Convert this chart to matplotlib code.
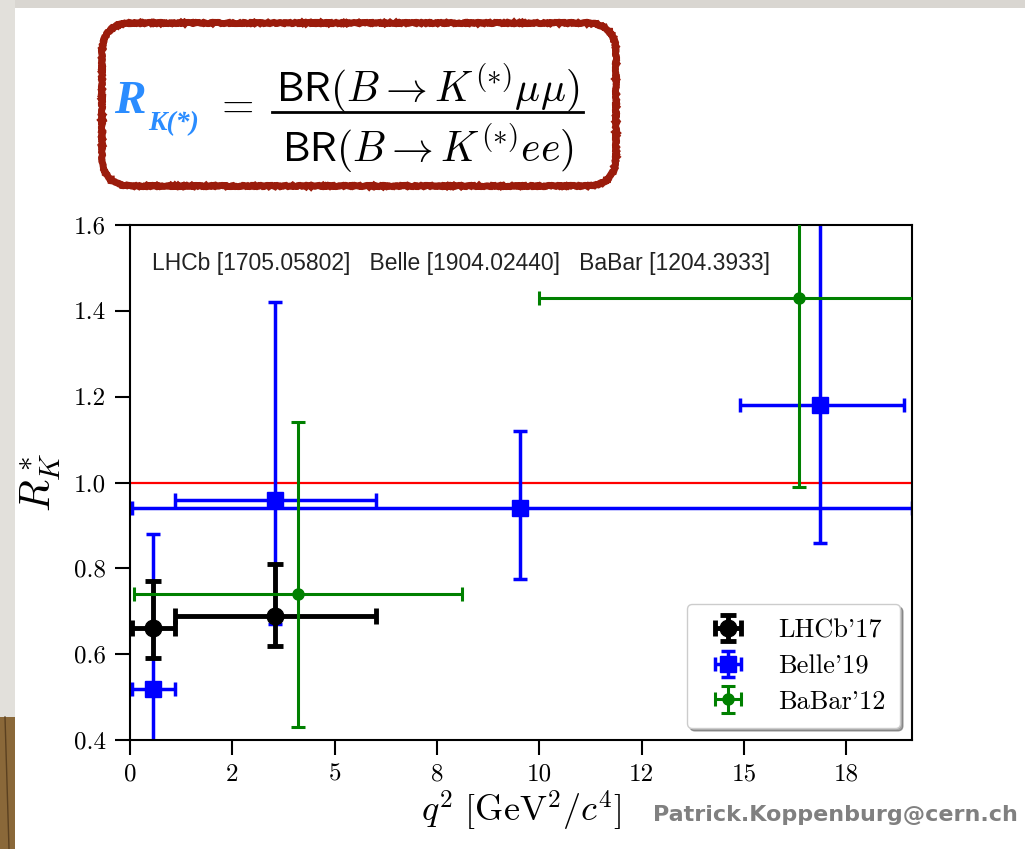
import numpy as np
import matplotlib.pyplot as plt
from matplotlib.patches import Rectangle, FancyBboxPatch
from matplotlib.ticker import MultipleLocator, FormatStrFormatter

plt.rcParams['mathtext.fontset'] = 'cm'
plt.rcParams['font.family'] = ['cmr10', 'DejaVu Serif']
plt.rcParams['axes.formatter.use_mathtext'] = True

# LHCb'17  (q2 bins 0.045-1.1 and 1.1-6.0)
lhcb_x = [0.57, 3.55]
lhcb_xlo = [0.045, 1.1]
lhcb_xhi = [1.1, 6.0]
lhcb_y = [0.66, 0.69]
lhcb_ylo = [0.07, 0.07]
lhcb_yhi = [0.11, 0.12]

# Belle'19
belle_x = [0.57, 3.55, 9.52, 16.85]
belle_xlo = [0.045, 1.1, 0.045, 14.9]
belle_xhi = [1.1, 6.0, 19.1, 18.9]
belle_y = [0.52, 0.96, 0.94, 1.18]
belle_ylo = [0.26, 0.29, 0.165, 0.32]
belle_yhi = [0.36, 0.46, 0.18, 0.52]

# BaBar'12
babar_x = [4.11, 16.35]
babar_xlo = [0.1, 10.0]
babar_xhi = [8.12, 22.6]
babar_y = [0.74, 1.43]
babar_ylo = [0.31, 0.44]
babar_yhi = [0.40, 0.65]

refs = 'LHCb [1705.05802]   Belle [1904.02440]   BaBar [1204.3933]'


def xerrs(x, lo, hi):
    x = np.array(x)
    return [x - np.array(lo), np.array(hi) - x]


fig = plt.figure(figsize=(10.25, 8.49), dpi=100)
W, H = 1025, 849

# slide background
bg = fig.add_axes([0, 0, 1, 1])
bg.set_xlim(0, W)
bg.set_ylim(H, 0)
bg.axis('off')
bg.add_patch(Rectangle((0, 0), W, 8, color='#d9d6d1', lw=0))
bg.add_patch(Rectangle((0, 0), 15, 717, color='#e2e0db', lw=0))
bg.add_patch(Rectangle((0, 717), 15, H - 717, color='#8a6839', lw=0))
bg.plot([5, 9], [717, 849], color='#5a4020', lw=1)

# formula box
box = FancyBboxPatch((102, 23), 514, 163, boxstyle='round,pad=0,rounding_size=30',
                     fc='white', ec='#9b1c0c', lw=5)
box.set_sketch_params(scale=0.6, length=4, randomness=6)
bg.add_patch(box)
bg.text(114, 113, 'R', fontsize=34, color='#2a8cff', fontweight='bold',
        fontstyle='italic', family='Liberation Serif', va='baseline')
bg.text(148, 130, 'K(*)', fontsize=20, color='#2a8cff', fontweight='bold',
        fontstyle='italic', family='Liberation Serif', va='baseline')
bg.text(234, 106, '$=$', fontsize=30, ha='center', va='center')
bg.text(428, 88, r'$\mathsf{BR}(B \rightarrow K^{(*)}\mu\mu)$', fontsize=30,
        ha='center', va='center')
bg.plot([272, 583], [112, 112], color='black', lw=2)
bg.text(428, 148, r'$\mathsf{BR}(B \rightarrow K^{(*)}ee)$', fontsize=30,
        ha='center', va='center')

bg.text(1018, 815, 'Patrick.Koppenburg@cern.ch', fontsize=16, color='#808080',
        fontweight='bold', family='DejaVu Sans', ha='right', va='center')

# main plot
ax = fig.add_axes([130 / W, 1 - 740 / H, (912 - 130) / W, (740 - 225) / H])
ax.axhline(1.0, color='red', lw=1.6, zorder=1)

belle = ax.errorbar(belle_x, belle_y, xerr=xerrs(belle_x, belle_xlo, belle_xhi),
                    yerr=[belle_ylo, belle_yhi], fmt='s', color='blue', ms=11,
                    elinewidth=2.5, capsize=5, capthick=2.5, label="Belle'19", zorder=2)
lhcb = ax.errorbar(lhcb_x, lhcb_y, xerr=xerrs(lhcb_x, lhcb_xlo, lhcb_xhi),
                   yerr=[lhcb_ylo, lhcb_yhi], fmt='o', color='black', ms=12,
                   elinewidth=3.5, capsize=6, capthick=3.5, label="LHCb'17", zorder=3)
babar = ax.errorbar(babar_x, babar_y, xerr=xerrs(babar_x, babar_xlo, babar_xhi),
                    yerr=[babar_ylo, babar_yhi], fmt='o', color='green', ms=8,
                    elinewidth=2.2, capsize=5, capthick=2.2, label="BaBar'12", zorder=4)

ax.set_xlim(0, 19.1)
ax.set_ylim(0.4, 1.6)
ax.xaxis.set_major_locator(MultipleLocator(2.5))
ax.xaxis.set_major_formatter(FormatStrFormatter('%.0f'))
ax.yaxis.set_major_locator(MultipleLocator(0.2))
ax.yaxis.set_major_formatter(FormatStrFormatter('%.1f'))
ax.tick_params(direction='out', length=11, width=1.5, labelsize=18, pad=6)
for s in ax.spines.values():
    s.set_linewidth(1.5)

ax.set_xlabel(r'$q^2\ [\mathrm{GeV}^2/c^4]$', fontsize=26, labelpad=2)
ax.set_ylabel(r'$R_K^*$', fontsize=30, labelpad=8)

ax.text(0.028, 0.912, refs, transform=ax.transAxes, fontsize=16.5,
        family='Liberation Sans', color='#222222')

leg = ax.legend([lhcb, belle, babar], ["LHCb'17", "Belle'19", "BaBar'12"],
                loc='lower right', fontsize=19, fancybox=True, shadow=True,
                framealpha=1, edgecolor='#cccccc', borderaxespad=0.45,
                handletextpad=0.9, labelspacing=0.45, borderpad=0.55)

fig.savefig('out.png', dpi=100)
